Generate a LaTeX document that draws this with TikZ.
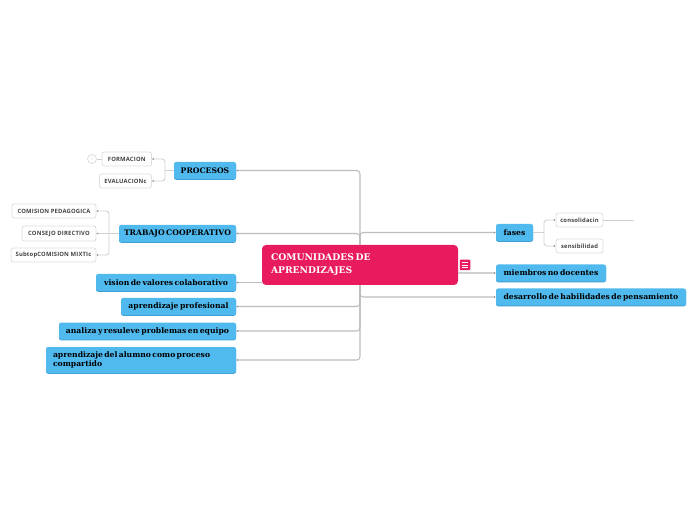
\documentclass[tikz,border=0pt]{standalone}
\usepackage{fontspec}
\setmainfont[WordSpace=0.55]{DejaVu Serif}
\setsansfont[LetterSpace=3]{Open Sans}
\usetikzlibrary{calc,shadows,arrows.meta}
\definecolor{topicblue}{HTML}{50B9EE}
\definecolor{topicedge}{HTML}{3F9FD6}
\definecolor{rootpink}{HTML}{E81B5E}
\definecolor{linegrey}{HTML}{BDBDBD}
\definecolor{sublinegrey}{HTML}{D0D0D0}
\definecolor{subedge}{HTML}{DEDEDE}
\definecolor{subtext}{HTML}{444444}
\definecolor{tipgrey}{HTML}{8A8A8A}
\tikzset{
  wh/.style 2 args={minimum width=#1*0.75pt,minimum height=#2*0.75pt,inner sep=0pt},
  topic/.style={fill=topicblue,rounded corners=1.6pt,text=black,font=\fontsize{5.75}{6.75}\selectfont\bfseries,
    drop shadow={shadow xshift=0pt,shadow yshift=-0.6pt,fill=topicedge,opacity=1}},
  subtopic/.style={draw=subedge,line width=0.6pt,fill=white,rounded corners=1.8pt,text=subtext,font=\sffamily\fontsize{4.4}{4.8}\selectfont\bfseries},
  root/.style={fill=rootpink,rounded corners=3pt,text=white,font=\fontsize{6.9}{9.75}\selectfont\bfseries},
  tinytip/.style={{Latex[length=1.3pt,width=1.5pt,color=tipgrey]}-},
  mainline/.style={draw=linegrey,line width=0.8pt,rounded corners=2.5pt},
  thickline/.style={draw=sublinegrey,line width=1.3pt},
  subline/.style={draw=sublinegrey,line width=0.6pt,rounded corners=2.2pt},
}
\begin{document}
\begin{tikzpicture}[x=0.75pt,y=-0.75pt]
\useasboundingbox[fill=white] (0,0) rectangle (696,520);
% nodes
\node[root,wh={196}{40},align=left,text width=178*0.75pt] (central) at (360,265) {\spaceskip=.17em COMUNIDADES DE\\APRENDIZAJES};
\node[topic,wh={62}{17}] (procesos) at (205,170.5) {PROCESOS};
\node[topic,wh={117}{17}] (trabajo) at (177.5,233.5) {TRABAJO COOPERATIVO};
\node[topic,wh={140}{17}] (vision) at (166,282.5) {vision de valores colaborativo};
\node[topic,wh={115}{17}] (prof) at (178.5,306.5) {aprendizaje profesional};
\node[topic,wh={177}{17}] (analiza) at (147.5,331) {analiza y resuleve problemas en equipo};
\node[topic,wh={190}{26},align=left,text width=176*0.75pt] (alumno) at (141,360) {\spaceskip=.17em aprendizaje del alumno como proceso\\compartido};
\node[topic,wh={37}{17}] (fases) at (514.5,232.5) {fases};
\node[topic,wh={110}{17}] (miembros) at (551,273) {miembros no docentes};
\node[topic,wh={190}{17}] (desarrollo) at (591,297) {desarrollo de habilidades de pensamiento};
\node[subtopic,wh={49.5}{14}] (formacion) at (126.75,159) {FORMACION};
\node[subtopic,wh={52}{14}] (evaluacion) at (125.5,181) {EVALUACIONc};
\node[subtopic,wh={84}{14}] (comision) at (54,211) {COMISION PEDAGOGICA};
\node[subtopic,wh={74}{15}] (consejo) at (59,233.5) {CONSEJO DIRECTIVO};
\node[subtopic,wh={85}{14}] (mixta) at (53.5,255) {SubtopCOMISION MIXTIc};
\node[subtopic,wh={47}{14}] (consolidacion) at (579.5,220) {consolidacin};
\node[subtopic,wh={47}{14}] (sensibilidad) at (579.5,246) {sensibilidad};
\node[circle,draw=subedge,line width=0.6pt,fill=white,minimum size=9*0.75pt,inner sep=0pt,text=subedge,font=\sffamily\fontsize{3.5}{4}\selectfont] (fold) at (92,159) {2};
\node[fill=rootpink,rounded corners=0.6pt,minimum size=10.5*0.75pt,inner sep=0pt] (menu) at (465,265) {};
\draw[white,line width=0.45pt] (461.8,262.5) -- (468.2,262.5) (461.8,265) -- (468.2,265) (461.8,267.5) -- (468.2,267.5);
\coordinate (procj) at (165,170.5);
\coordinate (trabj) at (109,233.5);
\coordinate (fasej) at (544,232.5);
\coordinate (consend) at (634,220);
% main connectors
\draw[mainline,tinytip] (procesos.east) -| (central.north);
\draw[mainline,tinytip] (trabajo.east) -| (central.north);
\draw[mainline,tinytip] (fases.west) -| (central.north);
\draw[mainline,tinytip] (vision.east) -- (vision.east -| central.west);
\draw[mainline,tinytip] (prof.east) -| (central.south);
\draw[mainline,tinytip] (analiza.east) -| (central.south);
\draw[mainline,tinytip] (alumno.east) -| (central.south);
\draw[mainline,tinytip] (desarrollo.west) -| (central.south);
\draw[thickline,tinytip] (miembros.west) -- (miembros.west -| central.east);
\draw[subline] (procesos.west) -- (procj);
\draw[subline,tinytip] (formacion.east) -| (procj);
\draw[subline,tinytip] (evaluacion.east) -| (procj);
\draw[subline,tinytip] (consejo.east) -- (trabajo.west);
\draw[subline,tinytip] (comision.east) -| (trabj);
\draw[subline,tinytip] (mixta.east) -| (trabj);
\draw[subline] (fases.east) -- (fasej);
\draw[subline,tinytip] (consolidacion.west) -| (fasej);
\draw[subline,tinytip] (sensibilidad.west) -| (fasej);
\draw[subline] (consolidacion.east) -- (consend);
\draw[subline] (formacion.west) -- (fold.east);
\end{tikzpicture}
\end{document}
